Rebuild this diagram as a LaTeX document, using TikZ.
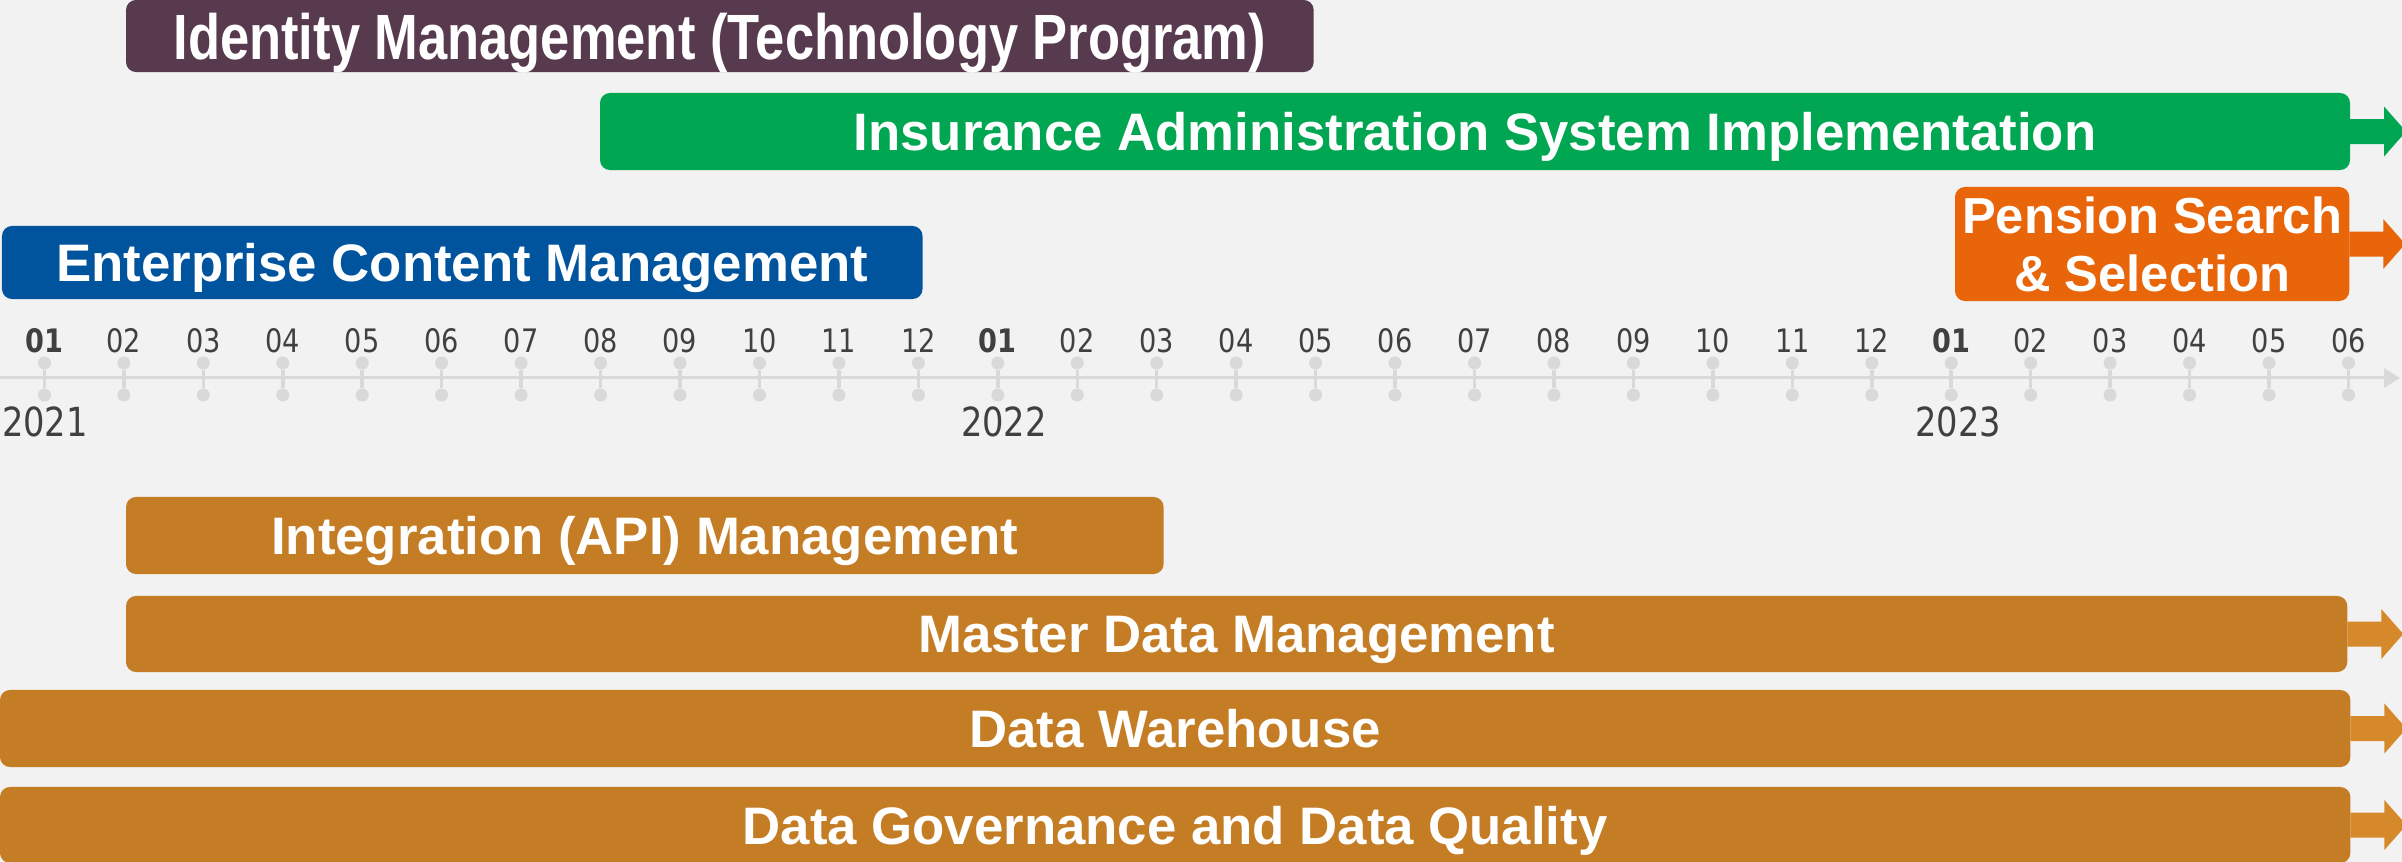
\documentclass[tikz,border=0pt]{standalone}
\usepackage{fontspec}
\setmainfont{Liberation Sans}
\newfontfamily\narrowfont[FakeStretch=0.82]{Liberation Sans}
\newfontfamily\axisfont[FakeStretch=0.84]{DejaVu Sans}
\usetikzlibrary{arrows.meta,calc}

\definecolor{bgcol}{HTML}{F2F2F2}
\definecolor{idpurple}{HTML}{573A4E}
\definecolor{iasgreen}{HTML}{00A651}
\definecolor{pensorange}{HTML}{E8650A}
\definecolor{ecmblue}{HTML}{00549E}
\definecolor{databar}{HTML}{C47D24}
\definecolor{dataarrow}{HTML}{D6892B}
\definecolor{axisgray}{HTML}{D9D9D9}
\definecolor{labelgray}{HTML}{404040}

% block arrow sticking out of a bar
\newcommand{\barrow}[2]{
    \fill[#2] ($(#1.east)+(0,-12.5)$) -- ++(34,0) -- ++(0,-12.5) -- ++(22,25) -- ++(-22,25) -- ++(0,-12.5) -- ++(-34,0) -- cycle;
}

\begin{document}
\begin{tikzpicture}[
    x=0.01cm, y=-0.01cm,
    bar/.style={rectangle, rounded corners=0.1cm, anchor=north west, inner sep=0pt, outer sep=0pt, text depth=0pt, text=white, align=center, font=\fontsize{15}{16.5}\selectfont\bfseries},
    dot/.style={circle, fill=axisgray, inner sep=0pt, minimum size=0.13cm},
    tick/.style={axisgray, line width=0.035cm},
    axis/.style={axisgray, line width=0.03cm, -{Triangle[length=0.16cm,width=0.19cm]}},
    month/.style={text=labelgray, font=\axisfont\fontsize{9.2}{11}\selectfont},
    year/.style={text=labelgray, font=\axisfont\fontsize{11.4}{13}\selectfont}
]

% Background
\fill[bgcol] (0,0) rectangle (2402,862);
\useasboundingbox (0,0) rectangle (2402,862);

% Upper bars
\node[bar, fill=idpurple, minimum width=11.87cm, minimum height=0.72cm, font=\narrowfont\fontsize{18.2}{20}\selectfont\bfseries] (idm) at (126,0) {Identity Management (Technology Program)};
\node[bar, fill=iasgreen, minimum width=17.49cm, minimum height=0.77cm] (ias) at (600,93) {Insurance Administration System Implementation};
\node[bar, fill=pensorange, minimum width=3.94cm, minimum height=1.14cm, font=\fontsize{14.4}{16.4}\selectfont\bfseries] (pss) at (1955,187) {Pension Search\\\& Selection};
\node[bar, fill=ecmblue, minimum width=9.20cm, minimum height=0.73cm] (ecm) at (2,226) {Enterprise Content Management};

\barrow{ias}{iasgreen}
\barrow{pss}{pensorange}

% Time axis
\coordinate (axstart) at (0,378);
\coordinate (axend) at (2400,378);
\draw[axis] (axstart) -- (axend);

\foreach \m [count=\i from 0] in {\textbf{01},02,03,04,05,06,07,08,09,10,11,12,\textbf{01},02,03,04,05,06,07,08,09,10,11,12,\textbf{01},02,03,04,05,06} {
    \pgfmathsetmacro{\x}{44.4+79.45*\i}
    \node[dot] (up\i) at (\x,363) {};
    \node[dot] (dn\i) at (\x,395) {};
    \draw[tick] (up\i) -- (dn\i);
    \node[month] (m\i) at (\x,341) {\m};
}

% Years
\node[year] (y2021) at (45,422) {2021};
\node[year] (y2022) at (1004,422) {2022};
\node[year] (y2023) at (1958,422) {2023};

% Lower bars
\node[bar, fill=databar, minimum width=10.37cm, minimum height=0.77cm] (api) at (126,497) {Integration (API) Management};
\node[bar, fill=databar, minimum width=22.20cm, minimum height=0.76cm] (mdm) at (126,596) {Master Data Management};
\node[bar, fill=databar, minimum width=23.49cm, minimum height=0.77cm] (dwh) at (0,690) {Data Warehouse};
\node[bar, fill=databar, minimum width=23.49cm, minimum height=0.76cm] (dgq) at (0,787) {Data Governance and Data Quality};

\barrow{mdm}{dataarrow}
\barrow{dwh}{dataarrow}
\barrow{dgq}{dataarrow}

\end{tikzpicture}
\end{document}
